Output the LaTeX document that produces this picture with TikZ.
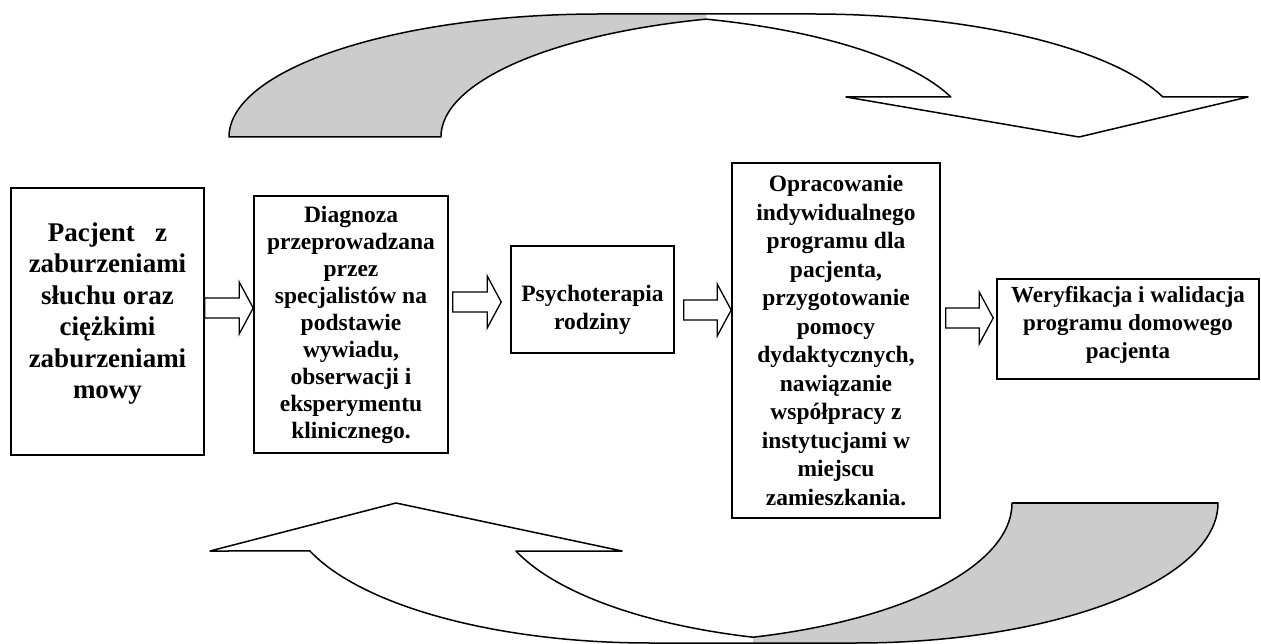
\documentclass[tikz,border=0pt]{standalone}
\usepackage{fontspec}
\setmainfont{Liberation Serif}
\usetikzlibrary{calc}

% block arrow from the tail point #1 to the tip point #2
\newcommand{\fatarrow}[2]{%
  \draw[fatline] ($(#1)+(0,\shaft)$) -- ($(#2)+(-\headl,\shaft)$) -- ($(#2)+(-\headl,\headw)$)
    -- (#2) -- ($(#2)+(-\headl,-\headw)$) -- ($(#2)+(-\headl,-\shaft)$) -- ($(#1)+(0,-\shaft)$) -- cycle;}

\begin{document}
\begin{tikzpicture}[x=1pt, y=1pt,
  stage/.style={draw, line width=1.6pt, inner sep=0pt},
  stagetext/.style={align=center, font=\bfseries\fontsize{23.5}{27.5}\selectfont},
  fatline/.style={draw, line width=1.3pt, fill=white},
  ribbon/.style={draw, line width=1.5pt, line join=round}]
  % colors
  \definecolor{ribbongray}{RGB}{204,204,204}

  % parameters
  \def\shaft{10}  % half-width of the shaft
  \def\headw{26}  % half-width of the head
  \def\headl{14}  % length of the head
  \def\rxa{371}   % radii of the upper ribbon
  \def\rya{123}
  \def\rxb{362}   % radii of the lower ribbon
  \def\ryb{140}

  \path[use as bounding box, fill=white] (0,0) rectangle (1261,643);

  % boxes
  \node[stage, minimum width=193pt, minimum height=267pt] (box1) at (107.5,321.5) {};
  \node[stage, minimum width=194pt, minimum height=257pt] (box2) at (351,318.5) {};
  \node[stage, minimum width=163pt, minimum height=107pt] (box3) at (592.5,343.5) {};
  \node[stage, minimum width=208pt, minimum height=355pt] (box4) at (836,302.5) {};
  \node[stage, minimum width=262pt, minimum height=100pt] (box5) at (1128,314) {};

  % texts
  \node[stagetext, font=\bfseries\fontsize{27}{31.5}\selectfont] (txt1) at ([yshift=8pt]box1.center)
    {Pacjent\ \ \ z\\zaburzeniami\\słuchu oraz\\ciężkimi\\zaburzeniami\\mowy};
  \node[stagetext, font=\bfseries\fontsize{23.5}{27}\selectfont] (txt2) at (box2.center)
    {Diagnoza\\przeprowadzana\\przez\\specjalistów na\\podstawie\\wywiadu,\\obserwacji i\\eksperymentu\\klinicznego.};
  \node[stagetext, font=\bfseries\fontsize{23.5}{28}\selectfont] (txt3) at ([yshift=-10pt]box3.center)
    {Psychoterapia\\rodziny};
  \node[stagetext, font=\bfseries\fontsize{23.5}{28.5}\selectfont] (txt4) at (box4.center)
    {Opracowanie\\indywidualnego\\programu dla\\pacjenta,\\przygotowanie\\pomocy\\dydaktycznych,\\nawiązanie\\współpracy z\\instytucjami w\\miejscu\\zamieszkania.};
  \node[stagetext, font=\bfseries\fontsize{23}{28}\selectfont] (txt5) at ([yshift=4pt]box5.center)
    {Weryfikacja i walidacja\\programu domowego\\pacjenta};

  % block arrows between the boxes
  \coordinate (s1) at (box1.east |- 0,335);
  \coordinate (t1) at (box2.west |- 0,335);
  \coordinate (s2) at ($(box2.east |- 0,341)+(4,0)$);
  \coordinate (t2) at ($(box3.west |- 0,341)+(-9,0)$);
  \coordinate (s3) at ($(box3.east |- 0,333)+(9,0)$);
  \coordinate (t3) at (box4.west |- 0,333);
  \coordinate (s4) at ($(box4.east |- 0,325)+(5,0)$);
  \coordinate (t4) at ($(box5.west |- 0,325)+(-3,0)$);
  \fatarrow{s1}{t1}
  \fatarrow{s2}{t2}
  \fatarrow{s3}{t3}
  \fatarrow{s4}{t4}

  % upper curved arrow (grey back part, then outline)
  \fill[ribbongray] (229,506) arc[start angle=180, end angle=90, x radius=\rxa, y radius=\rya]
    -- (706,629) -- (706,623.9)
    arc[start angle=106.6, end angle=180, x radius=\rxa, y radius=\rya] -- cycle;
  \draw[ribbon] (441,506) -- (229,506)
    arc[start angle=180, end angle=90, x radius=\rxa, y radius=\rya] -- (812,629)
    arc[start angle=90, end angle=18.98, x radius=\rxa, y radius=\rya]
    -- (1248,546) -- (1079,506) -- (846,546) -- (950.8,546)
    arc[start angle=18.98, end angle=73.4, x radius=\rxa, y radius=\rya]
    arc[start angle=106.6, end angle=180, x radius=\rxa, y radius=\rya] -- cycle;

  % lower curved arrow
  \fill[ribbongray] (1218,140) arc[start angle=0, end angle=-90, x radius=\rxb, y radius=\ryb]
    -- (753,0) -- (753,5.8)
    arc[start angle=-73.47, end angle=0, x radius=\rxb, y radius=\ryb] -- cycle;
  \draw[ribbon] (1012,140) -- (1218,140)
    arc[start angle=0, end angle=-90, x radius=\rxb, y radius=\ryb] -- (650,0)
    arc[start angle=-90, end angle=-159.95, x radius=\rxb, y radius=\ryb]
    -- (210,92) -- (396,140) -- (622,92) -- (515.94,92)
    arc[start angle=-159.95, end angle=-106.53, x radius=\rxb, y radius=\ryb]
    arc[start angle=-73.47, end angle=0, x radius=\rxb, y radius=\ryb] -- cycle;
\end{tikzpicture}
\end{document}
